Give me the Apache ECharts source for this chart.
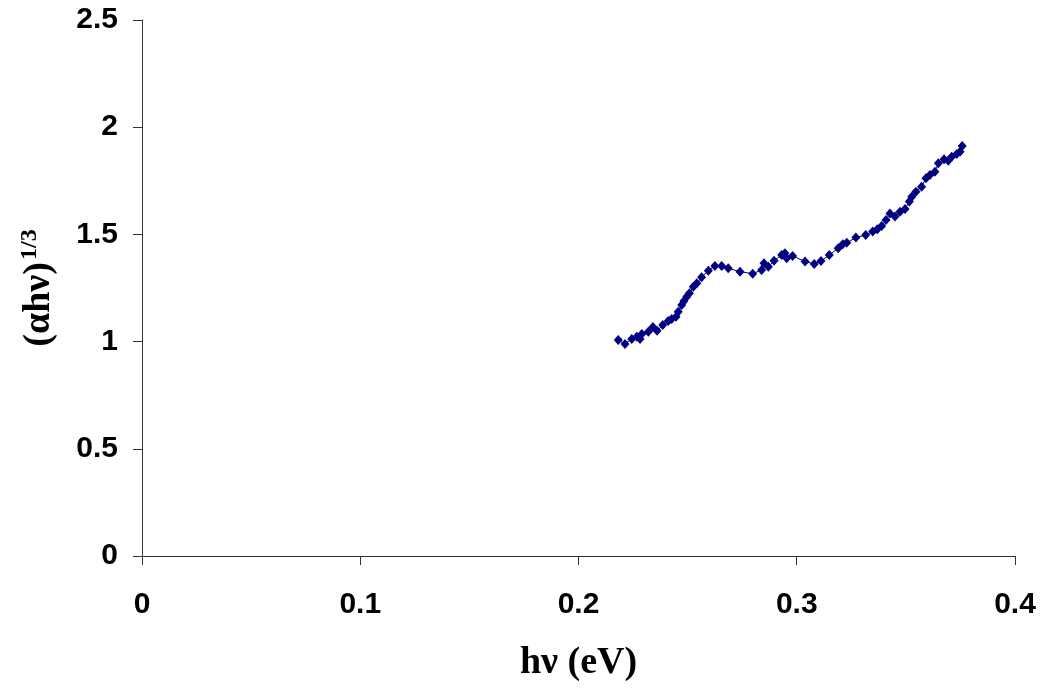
<!DOCTYPE html>
<html>
<head>
<meta charset="utf-8">
<script src="https://cdn.jsdelivr.net/npm/echarts@6/dist/echarts.min.js"></script>
<style>
	html, body { margin: 0; padding: 0; background: #fff; }
	#chart { width: 1044px; height: 689px; }
</style>
</head>
<body>
<div id="chart"></div>
<script>
	// photon energy (eV)
	var hv = [
		0.2182, 0.2213, 0.2244, 0.2267, 0.2282, 0.2290, 0.2320, 0.2341, 0.2360, 0.2386,
		0.2411, 0.2427, 0.2447, 0.2457, 0.2473, 0.2483, 0.2496, 0.2508, 0.2526, 0.2542,
		0.2564, 0.2595, 0.2625, 0.2656, 0.2686, 0.2740, 0.2798, 0.2839, 0.2850, 0.2870,
		0.2896, 0.2931, 0.2946, 0.2954, 0.2981, 0.3038, 0.3080, 0.3111, 0.3149, 0.3190,
		0.3211, 0.3229, 0.3271, 0.3316, 0.3348, 0.3369, 0.3389, 0.3409, 0.3427, 0.3450,
		0.3473, 0.3496, 0.3516, 0.3527, 0.3546, 0.3572, 0.3592, 0.3610, 0.3633, 0.3649,
		0.3675, 0.3694, 0.3710, 0.3733, 0.3748, 0.3758
	];
	// (alpha h nu)^(1/3)
	var ahv = [
		1.007, 0.989, 1.012, 1.023, 1.012, 1.035, 1.046, 1.068, 1.051, 1.077,
		1.096, 1.105, 1.116, 1.139, 1.171, 1.189, 1.209, 1.225, 1.256, 1.272,
		1.300, 1.331, 1.353, 1.353, 1.342, 1.326, 1.317, 1.334, 1.365, 1.349,
		1.377, 1.404, 1.412, 1.389, 1.399, 1.374, 1.362, 1.376, 1.404, 1.435,
		1.454, 1.461, 1.485, 1.497, 1.513, 1.524, 1.539, 1.567, 1.598, 1.583,
		1.606, 1.618, 1.653, 1.676, 1.699, 1.722, 1.762, 1.777, 1.792, 1.832,
		1.850, 1.844, 1.862, 1.875, 1.886, 1.912
	];
	var xTicks = [0, 0.1, 0.2, 0.3, 0.4];
	var yTicks = [0, 0.5, 1, 1.5, 2, 2.5];

	var points = [];
	for (var i = 0; i < hv.length; i++) {
		points.push([hv[i], ahv[i]]);
	}

	var myChart = echarts.init(document.getElementById('chart'));
	var option = {
		backgroundColor: '#fff',
		animation: false,
		grid: {
			left: 142,
			right: 29,
			top: 20,
			bottom: 133
		},
		xAxis: {
			type: 'value',
			min: xTicks[0],
			max: xTicks[xTicks.length - 1],
			interval: 0.1,
			name: 'hν (eV)',
			nameLocation: 'middle',
			nameGap: 88,
			nameTextStyle: {
				fontFamily: 'Liberation Serif',
				fontWeight: 'bold',
				fontSize: 38,
				color: '#000'
			},
			axisLine: { lineStyle: { color: '#333', width: 1 } },
			axisTick: { show: true, length: 9, lineStyle: { color: '#333' } },
			splitLine: { show: false },
			axisLabel: {
				margin: 34,
				fontFamily: 'Liberation Sans',
				fontWeight: 'bold',
				fontSize: 30,
				color: '#000',
				formatter: function (v) { return String(Math.round(v * 10) / 10); }
			}
		},
		yAxis: {
			type: 'value',
			min: yTicks[0],
			max: yTicks[yTicks.length - 1],
			interval: 0.5,
			name: '{b|(αhν)}{s|1/3}',
			nameLocation: 'middle',
			nameGap: 82,
			nameRotate: 90,
			nameTextStyle: {
				rich: {
					b: {
						fontFamily: 'Liberation Serif',
						fontWeight: 'bold',
						fontSize: 38,
						color: '#000'
					},
					s: {
						fontFamily: 'Liberation Serif',
						fontWeight: 'bold',
						fontSize: 24,
						color: '#000',
						verticalAlign: 'top',
						padding: [0, 0, 18, 2]
					}
				}
			},
			axisLine: { show: true, lineStyle: { color: '#333', width: 1 } },
			axisTick: { show: true, length: 9, lineStyle: { color: '#333' } },
			splitLine: { show: false },
			axisLabel: {
				margin: 24,
				fontFamily: 'Liberation Sans',
				fontWeight: 'bold',
				fontSize: 30,
				color: '#000'
			}
		},
		series: [{
			type: 'line',
			data: points,
			symbol: 'diamond',
			symbolSize: [9, 10],
			itemStyle: { color: '#000080' },
			lineStyle: { color: '#000080', width: 1 }
		}]
	};
	myChart.setOption(option);
</script>
</body>
</html>
